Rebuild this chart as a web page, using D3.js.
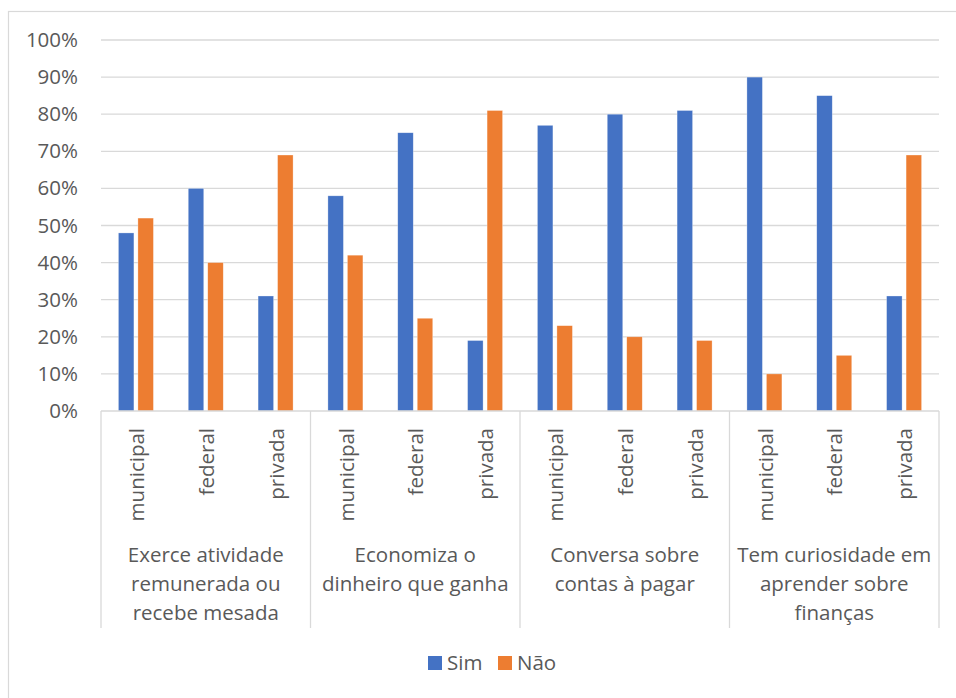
<!DOCTYPE html>
<html>
<head>
<meta charset="utf-8">
<script src="https://cdn.jsdelivr.net/npm/d3@7"></script>
<style>
  body { margin: 0; background: #fff; }
  text { font-family: "Open Sans", "Liberation Sans", sans-serif; fill: #595959; }
</style>
</head>
<body>
<svg id="grafico" width="956" height="698"></svg>
<script>
(function() {

	// dados
	var grupos = [
		["Exerce atividade", "remunerada ou", "recebe mesada"],
		["Economiza o", "dinheiro que ganha"],
		["Conversa sobre", "contas à pagar"],
		["Tem curiosidade em", "aprender sobre", "finanças"]
	];
	var escolas = ["municipal", "federal", "privada"];
	var series = ["Sim", "Não"];
	var cores = ["#4472C4", "#ED7D31"];
	var sim = [48, 60, 31, 58, 75, 19, 77, 80, 81, 90, 85, 31];
	var nao = [52, 40, 69, 42, 25, 81, 23, 20, 19, 10, 15, 69];
	var ticks = [0, 10, 20, 30, 40, 50, 60, 70, 80, 90, 100];

	var left = 101, right = 939, top = 40, base = 411, fundo = 628,
		fonte = '20.5px';

	var svg = d3.select('#grafico');

	// moldura do gráfico
	svg.append('rect')
		.attr('x', 8.5).attr('y', 11.5)
		.attr('width', 960).attr('height', 700)
		.attr('fill', 'none').attr('stroke', '#d9d9d9').attr('stroke-width', 1.2);

	var cats = [];
	grupos.forEach(function(g, gi) {
		escolas.forEach(function(e, ei) { cats.push({ grupo: gi, escola: e, i: gi * 3 + ei }); });
	});

	var x = d3.scaleBand().domain(cats.map(function(d) { return d.i; })).range([left, right]);
	var xg = d3.scaleBand().domain(d3.range(grupos.length)).range([left, right]);
	var xs = d3.scaleBand().domain(series).range([0, 35]).paddingInner(0.205);
	var y = d3.scaleLinear().domain([0, 100]).range([base, top]);

	// linhas de grade
	svg.append('g').selectAll('line').data(ticks.slice(1)).enter()
		.append('line')
			.attr('x1', left).attr('x2', right)
			.attr('y1', function(d) { return y(d); })
			.attr('y2', function(d) { return y(d); })
			.attr('stroke', '#d9d9d9').attr('stroke-width', 1.3);

	// eixo y
	var eixoY = svg.append('g')
		.attr('transform', 'translate(' + (left - 8) + ',0)')
		.call(d3.axisLeft(y).tickValues(ticks).tickSize(0).tickPadding(15)
			.tickFormat(function(d) { return d + '%'; }));
	eixoY.select('.domain').remove();
	eixoY.selectAll('text').style('font-size', fonte).attr('fill', '#595959');

	// barras
	var dados = [];
	cats.forEach(function(c) {
		dados.push({ i: c.i, serie: 'Sim', v: sim[c.i] });
		dados.push({ i: c.i, serie: 'Não', v: nao[c.i] });
	});
	svg.append('g').selectAll('rect').data(dados).enter()
		.append('rect')
			.attr('x', function(d) { return x(d.i) + x.bandwidth() / 2 - 17.5 + xs(d.serie); })
			.attr('y', function(d) { return y(d.v); })
			.attr('width', xs.bandwidth())
			.attr('height', function(d) { return base - y(d.v); })
			.attr('fill', function(d) { return cores[series.indexOf(d.serie)]; })
			.attr('stroke', '#fff').attr('stroke-opacity', 0.5).attr('stroke-width', 0.6);

	// eixo x (linha base e separadores)
	svg.append('line')
		.attr('x1', left).attr('x2', right).attr('y1', base).attr('y2', base)
		.attr('stroke', '#d9d9d9').attr('stroke-width', 1.3);
	svg.append('g').selectAll('line').data(d3.range(grupos.length + 1)).enter()
		.append('line')
			.attr('x1', function(d) { return left + d * xg.step(); })
			.attr('x2', function(d) { return left + d * xg.step(); })
			.attr('y1', base).attr('y2', fundo)
			.attr('stroke', '#d9d9d9').attr('stroke-width', 1.3);

	// rótulos das escolas (rotacionados)
	svg.append('g').selectAll('text').data(cats).enter()
		.append('text')
			.attr('transform', function(d) { return 'translate(' + (x(d.i) + x.bandwidth() / 2 + 1) + ',428) rotate(-90)'; })
			.attr('text-anchor', 'end')
			.attr('dy', '0.35em')
			.style('font-size', fonte)
			.text(function(d) { return d.escola; });

	// rótulos dos grupos
	var gl = svg.append('g').selectAll('text').data(grupos).enter()
		.append('text')
			.attr('text-anchor', 'middle')
			.style('font-size', fonte);
	gl.selectAll('tspan').data(function(d, i) { return d.map(function(t, k) { return { t: t, k: k, g: i }; }); }).enter()
		.append('tspan')
			.attr('x', function(d) { return xg(d.g) + xg.bandwidth() / 2; })
			.attr('y', function(d) { return 562 + d.k * 29; })
			.text(function(d) { return d.t; });

	// legenda
	var leg = svg.append('g').selectAll('g').data(series).enter()
		.append('g')
			.attr('transform', function(d, i) { return 'translate(' + (428 + i * 70) + ',656)'; });
	leg.append('rect')
		.attr('width', 14).attr('height', 14)
		.attr('fill', function(d, i) { return cores[i]; });
	leg.append('text')
		.attr('x', 19).attr('y', 7).attr('dy', '0.35em')
		.style('font-size', fonte)
		.text(function(d) { return d; });

})();
</script>
</body>
</html>
